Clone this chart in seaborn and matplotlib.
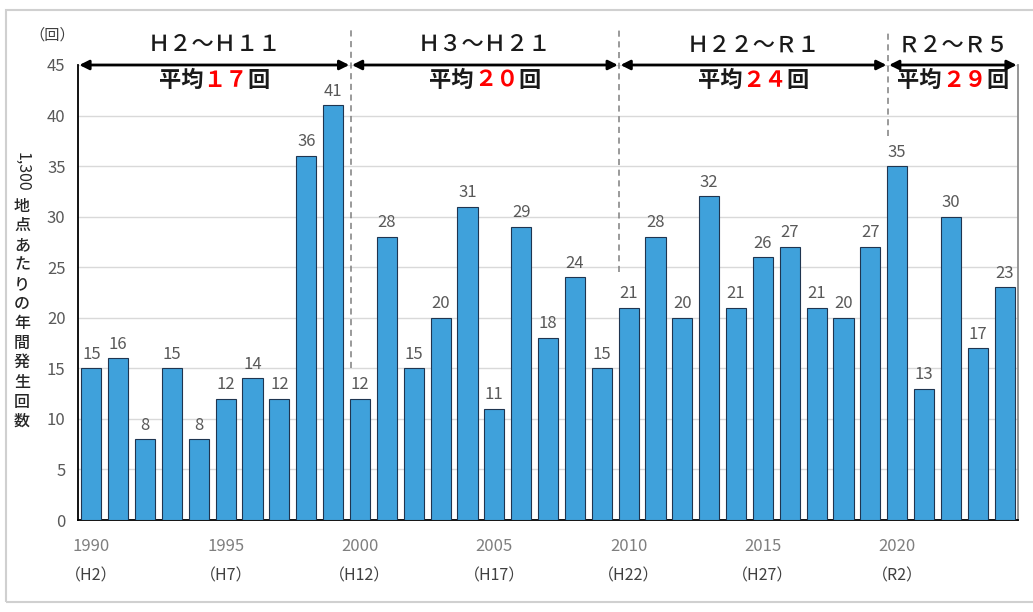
import matplotlib
matplotlib.use("Agg")
import matplotlib.pyplot as plt
import seaborn as sns
import pandas as pd
from matplotlib.patches import Rectangle

# データ（1時間降水量の年間発生回数）
years = [1990, 1991, 1992, 1993, 1994, 1995, 1996, 1997, 1998, 1999,
         2000, 2001, 2002, 2003, 2004, 2005, 2006, 2007, 2008, 2009,
         2010, 2011, 2012, 2013, 2014, 2015, 2016, 2017, 2018, 2019,
         2020, 2021, 2022, 2023, 2024]
counts = [15, 16, 8, 15, 8, 12, 14, 12, 36, 41,
          12, 28, 15, 20, 31, 11, 29, 18, 24, 15,
          21, 28, 20, 32, 21, 26, 27, 21, 20, 27,
          35, 13, 30, 17, 23]
tick_years = [1990, 1995, 2000, 2005, 2010, 2015, 2020]
tick_eras = ["（H2）", "（H7）", "（H12）", "（H17）", "（H22）", "（H27）", "（R2）"]
periods = ["Ｈ２～Ｈ１１", "Ｈ３～Ｈ２１", "Ｈ２２～Ｒ１", "Ｒ２～Ｒ５"]
period_start = [1990, 2000, 2010, 2020]
averages = ["１７", "２０", "２４", "２９"]

df = pd.DataFrame({"year": years, "count": counts})

sns.set_theme(style="white")
plt.rcParams["font.family"] = ["Noto Sans CJK JP", "DejaVu Sans"]

fig = plt.figure(figsize=(10.33, 6.12), dpi=100)
ax = fig.add_axes([0.0755, 0.1503, 0.91, 0.7435])

sns.barplot(data=df, x="year", y="count", color="#3FA1DB", saturation=1,
            edgecolor="#1F3550", linewidth=0.8, width=0.75, ax=ax, zorder=3)
ax.bar_label(ax.containers[0], padding=4, fontsize=12, color="#595959")

ax.set_ylim(0, 45)
ax.set_xlim(-0.5, len(years) - 0.5)
ax.set_yticks(range(0, 46, 5))
ax.yaxis.grid(True, color="#D9D9D9", lw=1, zorder=0)
ax.tick_params(axis="y", labelsize=12, labelcolor="#595959", pad=9, length=0)
pos = [years.index(y) for y in tick_years]
ax.set_xticks(pos)
ax.set_xticklabels([str(y) for y in tick_years])
ax.tick_params(axis="x", labelsize=12, labelcolor="#7F7F7F", pad=13, length=0)
for p, era in zip(pos, tick_eras):
    ax.annotate(era, xy=(p, 0), xycoords=("data", "axes fraction"),
                xytext=(0, -40), textcoords="offset points", ha="center",
                va="center", fontsize=11.5, color="#404040", annotation_clip=False)
ax.set_xlabel("")
ax.set_ylabel("")

ax.spines["top"].set_visible(False)
ax.spines["left"].set_color("black")
ax.spines["left"].set_linewidth(1.3)
ax.spines["bottom"].set_color("black")
ax.spines["bottom"].set_linewidth(1.3)
ax.spines["right"].set_color("#8C8C8C")
ax.spines["right"].set_linewidth(1.3)

# 期間の区切り線と矢印
bounds = [-0.5] + [years.index(s) - 0.35 for s in period_start[1:]] + [len(years) - 0.5]
dash_bottom = [15, 24.5, 38]
for b, lo in zip(bounds[1:-1], dash_bottom):
    ax.plot([b, b], [lo, 48.5], ls=(0, (4, 3)), color="#7F7F7F", lw=1.1,
            clip_on=False, zorder=4)
for i, (name, avg) in enumerate(zip(periods, averages)):
    x0, x1 = bounds[i], bounds[i + 1]
    ax.annotate("", xy=(x1 - 0.05, 45), xytext=(x0 + 0.05, 45),
                arrowprops=dict(arrowstyle="<|-|>", color="black", lw=2,
                                mutation_scale=14, shrinkA=0, shrinkB=0),
                annotation_clip=False, zorder=5)
    cx = (x0 + x1) / 2
    ax.text(cx, 47.0, name, ha="center", va="center", fontsize=16,
            fontweight="medium", color="#1A1A1A", clip_on=False)
    em = 16
    for txt, off, col in [("平均", -1.5 * em, "#1A1A1A"), (avg, 0.5 * em, "#FF0000"),
                          ("回", 2.0 * em, "#1A1A1A")]:
        ax.annotate(txt, xy=(cx, 43.5), xytext=(off, 0), textcoords="offset points",
                    ha="center", va="center", fontsize=em, fontweight="bold",
                    color=col, annotation_clip=False)

# 単位と縦書きの軸ラベル
fig.text(52 / 1033, 1 - 35 / 612, "（回）", ha="center", va="center",
         fontsize=11, color="#404040")
fig.text(22 / 1033, 1 - 172 / 612, "1,300", rotation=-90, ha="center",
         va="center", fontsize=11.5, color="#262626")
for k, ch in enumerate("地点あたりの年間発生回数"):
    fig.text(22 / 1033, 1 - (206 + k * 19.6) / 612, ch, ha="center",
             va="center", fontsize=11.5, fontweight="medium", color="#262626")

# 外枠
fig.patches.append(Rectangle((6 / 1033, 10 / 612), 1.1, 1 - 20 / 612,
                             transform=fig.transFigure, fill=False,
                             ec="#D0D0D0", lw=1.5))

fig.savefig("out.png", dpi=100)
